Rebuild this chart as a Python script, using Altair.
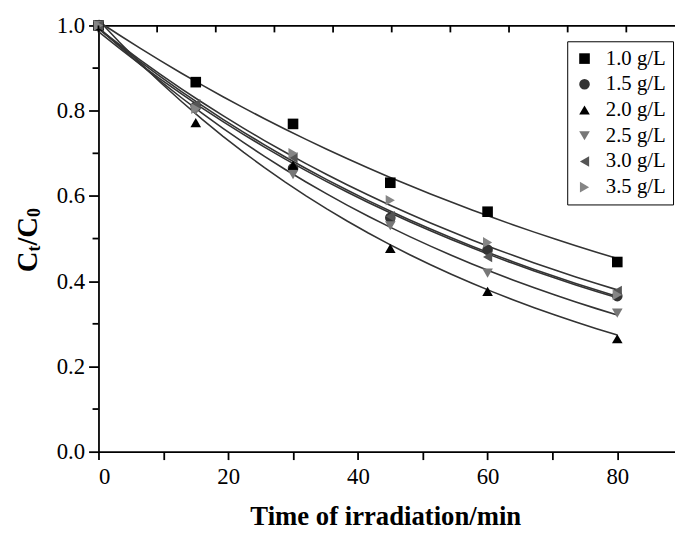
import altair as alt
import pandas as pd

times = [0, 15, 30, 45, 60, 80]
series_names = ["1.0 g/L", "1.5 g/L", "2.0 g/L", "2.5 g/L", "3.0 g/L", "3.5 g/L"]
c_10 = [1.0, 0.867, 0.769, 0.631, 0.563, 0.445]
c_15 = [1.0, 0.810, 0.665, 0.549, 0.474, 0.365]
c_20 = [1.0, 0.772, 0.672, 0.477, 0.376, 0.265]
c_25 = [1.0, 0.800, 0.650, 0.530, 0.419, 0.325]
c_30 = [1.0, 0.815, 0.690, 0.552, 0.457, 0.377]
c_35 = [1.0, 0.805, 0.700, 0.590, 0.491, 0.368]
shapes = ["square", "circle", "triangle-up", "triangle-down", "triangle-left", "triangle-right"]
colors = ["#000000", "#333333", "#000000", "#777777", "#555555", "#858585"]

x_ticks = [0, 10, 20, 30, 40, 50, 60, 70, 80]
y_ticks = [0.0, 0.2, 0.4, 0.6, 0.8, 1.0]
y_minor = [0.1, 0.3, 0.5, 0.7, 0.9]
top_ticks = [0, 10, 20, 30, 40, 50, 60, 70, 80, 90]

rows = []
for name, vals in zip(series_names, [c_10, c_15, c_20, c_25, c_30, c_35]):
    for t, v in zip(times, vals):
        rows.append({"t": t, "v": v, "series": name})
df = pd.DataFrame(rows)

W, H = 583, 431
FONT = "Liberation Serif"
xscale = alt.Scale(domain=[0, 88.9], nice=False, zero=False)
yscale = alt.Scale(domain=[0, 1.0], nice=False)

points = alt.Chart(df).mark_point(filled=True, size=115, opacity=1).encode(
    x=alt.X("t:Q", scale=xscale,
            axis=alt.Axis(values=x_ticks, labelExpr="datum.value % 20 == 0 ? datum.label : ''",
                          tickSize=8, labelPadding=6, grid=False,
                          labelFont=FONT, labelFontSize=23, labelColor="black",
                          title="Time of irradiation/min", titleFont=FONT, titleFontSize=27,
                          titleFontWeight="bold", titleColor="black", titleX=290, titleY=74,
                          titleAlign="center", titleBaseline="alphabetic")),
    y=alt.Y("v:Q", scale=yscale,
            axis=alt.Axis(values=y_ticks, format=".1f", tickSize=10, labelPadding=4,
                          labelFont=FONT, labelFontSize=23, labelColor="black",
                          grid=False, title=None)),
    shape=alt.Shape("series:N", scale=alt.Scale(domain=series_names, range=shapes),
                    legend=alt.Legend(title=None, orient="none", legendX=474, legendY=16,
                                      fillColor="white", strokeColor="black", padding=7,
                                      labelFont=FONT, labelFontSize=21, labelColor="black",
                                      symbolSize=115, symbolStrokeWidth=0, rowPadding=4,
                                      labelOffset=11, symbolOffset=0)),
    color=alt.Color("series:N", scale=alt.Scale(domain=series_names, range=colors), legend=alt.Legend(title=None)),
)

fits = alt.Chart(df).transform_regression(
    "t", "v", groupby=["series"], method="exp", extent=[0, 80]
).mark_line(color="#333333", strokeWidth=1.6).encode(
    x=alt.X("t:Q", scale=xscale, axis=None),
    y=alt.Y("v:Q", scale=yscale),
    detail="series:N",
)

minor_y = alt.Chart(pd.DataFrame({"m": y_minor})).mark_rule(color="black", strokeWidth=1.8).encode(
    y=alt.Y("m:Q", scale=yscale),
    x=alt.value(-6), x2=alt.value(0),
)

top_axis = alt.Chart(pd.DataFrame({"k": top_ticks})).mark_rule(color="black", strokeWidth=1.8).encode(
    x=alt.X("k:Q", scale=alt.Scale(domain=[0, 98.3], nice=False, zero=False),
            axis=alt.Axis(orient="top", labels=False, ticks=False, domain=True, grid=False, title=None)),
    y=alt.value(0), y2=alt.value(7),
)

def ttext(txt, size, x, y):
    return alt.Chart(alt.Data(values=[{}])).mark_text(
        text=txt, font=FONT, fontSize=size, fontWeight="bold", angle=270,
        align="left", baseline="alphabetic", color="black"
    ).encode(x=alt.value(x), y=alt.value(y))

ytitle = [
    ttext("C", 29, -62.5, 249.5),
    ttext("t", 18, -59.0, 228.6),
    ttext("/C", 29, -62.5, 222.6),
    ttext("0", 18, -59.0, 193.6),
]

chart = alt.layer(fits, points, minor_y, top_axis, *ytitle).resolve_scale(
    x="independent"
).properties(
    width=W, height=H,
    autosize=alt.AutoSizeParams(type="none"),
    padding={"left": 91.5, "top": 14.7, "right": 0, "bottom": 82},
).configure_view(stroke=None).configure_axis(
    labelFont=FONT, labelFontSize=23, labelColor="black",
    domainColor="black", domainWidth=1.8, tickColor="black", tickWidth=1.8,
)

chart.save("out.html", embed_options={"renderer": "svg", "actions": False})
